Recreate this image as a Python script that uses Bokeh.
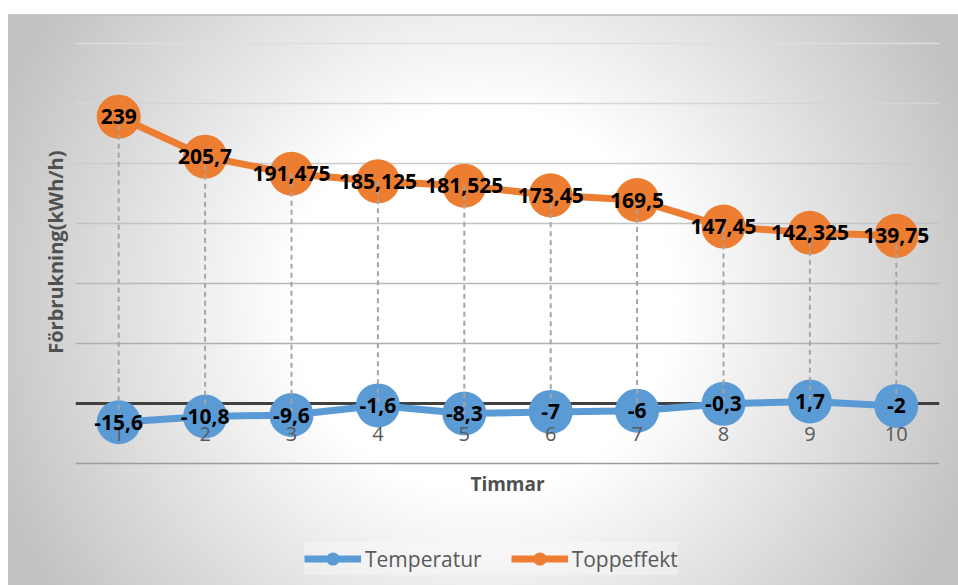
from bokeh.plotting import figure
from bokeh.models import (ColumnDataSource, Range1d, FixedTicker, LinearAxis, Grid,
                          Legend, LegendItem, Label, Title)
from bokeh.core.properties import value
from bokeh.embed import file_html
from bokeh.resources import INLINE

# --- data -------------------------------------------------------------
hours = [1, 2, 3, 4, 5, 6, 7, 8, 9, 10]
temperatur = [-15.6, -10.8, -9.6, -1.6, -8.3, -7, -6, -0.3, 1.7, -2]
toppeffekt = [239, 205.7, 191.475, 185.125, 181.525, 173.45, 169.5, 147.45, 142.325, 139.75]
y_ticks = [-50, 0, 50, 100, 150, 200, 250, 300]
x_title = "Timmar"
y_title = "Förbrukning(kWh/h)"
series_names = ["Temperatur", "Toppeffekt"]

BLUE = "#5B9BD5"
ORANGE = "#ED7D31"
FONT = "Open Sans"
TEXT_GREY = "#595959"

# layout (pixels)
W, H = 958, 585
LEFT, RIGHT, TOP = 75, 19, 43
PLOT_H = 420            # height of the gridded value area
PAD_TOP = 3             # keeps the top gridline fully visible
px_per_unit = PLOT_H / (y_ticks[-1] - y_ticks[0])
y_low = y_ticks[0] - (H - TOP - PLOT_H) / px_per_unit   # frame runs to the bottom edge
y_high = y_ticks[-1] + PAD_TOP / px_per_unit


def fmt(v):
    return f"{v:g}".replace(".", ",")


src = ColumnDataSource(dict(
    x=hours,
    temp=temperatur,
    topp=toppeffekt,
    temp_lbl=[fmt(v) for v in temperatur],
    topp_lbl=[fmt(v) for v in toppeffekt],
))

p = figure(width=W, height=H, output_backend="svg", toolbar_location=None,
           x_range=Range1d(0.5, 10.5), y_range=Range1d(y_low, y_high),
           x_axis_type=None, y_axis_type=None,
           min_border_left=LEFT, min_border_right=RIGHT,
           min_border_top=TOP - PAD_TOP, min_border_bottom=0)

p.border_fill_color = None
p.background_fill_color = None
p.outline_line_color = None
p.grid.visible = False

# chart-area fill: light radial gradient with a thin top edge
p.styles = {
    "background": (
        "linear-gradient(#c4c4c4, #c4c4c4) 8px 14px / 950px 2px no-repeat, "
        "radial-gradient(circle at 475px 286px, #ffffff 0px, #ffffff 190px, #c2c2c2 520px) "
        "8px 14px / 950px 571px no-repeat, #ffffff"
    )
}

# horizontal gridlines, shading darker towards the bottom
span = y_ticks[-1] - y_ticks[0]
for v in y_ticks:
    if v == 0:
        continue
    t = (y_ticks[-1] - v) / span
    g = int(round(222 - t * (222 - 156)))
    p.add_layout(Grid(dimension=1, ticker=FixedTicker(ticks=[v]),
                      grid_line_color=f"#{g:02x}{g:02x}{g:02x}", grid_line_width=1.5))

# zero line kept underneath the markers
p.add_layout(Grid(dimension=1, ticker=FixedTicker(ticks=[0]),
                  grid_line_color="#404040", grid_line_width=3))

# series lines and markers
l_temp = p.line("x", "temp", source=src, line_color=BLUE, line_width=7)
l_topp = p.line("x", "topp", source=src, line_color=ORANGE, line_width=7)
m_temp = p.scatter("x", "temp", source=src, size=44, fill_color=BLUE, line_color=None)
m_topp = p.scatter("x", "topp", source=src, size=44, fill_color=ORANGE, line_color=None)

# high-low lines between the two series
p.segment(x0="x", y0="topp", x1="x", y1="temp", source=src,
          line_color="#a5a5a5", line_width=2, line_dash="5 4")

# data labels
for col, ycol in (("temp_lbl", "temp"), ("topp_lbl", "topp")):
    r = p.text("x", ycol, text=col, source=src, text_font=value(FONT),
               text_font_style="bold", text_font_size="21px", text_color="#000000",
               text_align="center", text_baseline="middle")
    r.level = "annotation"

# category axis crossing at zero
xaxis = LinearAxis(fixed_location=0, ticker=FixedTicker(ticks=hours))
xaxis.axis_line_color = None
xaxis.major_tick_line_color = None
xaxis.minor_tick_line_color = None
xaxis.major_label_standoff = 17
xaxis.major_label_text_font = FONT
xaxis.major_label_text_font_size = "20px"
xaxis.major_label_text_color = TEXT_GREY
p.add_layout(xaxis, "below")

# category axis title
x_mid = (p.x_range.start + p.x_range.end) / 2
p.add_layout(Label(x=x_mid, y=y_ticks[0] - 20 / px_per_unit, text=x_title,
                   text_font=FONT, text_font_style="bold", text_font_size="19px",
                   text_color="#505050", text_align="center", text_baseline="middle"))

# value axis title, placed along the gridded range
p.add_layout(Title(text=y_title, align="right", offset=110, standoff=14,
                   vertical_align="bottom",
                   text_font=FONT, text_font_style="bold", text_font_size="20px",
                   text_color="#505050"), "left")

legend = Legend(
    items=[LegendItem(label=series_names[0], renderers=[l_temp, m_temp]),
           LegendItem(label=series_names[1], renderers=[l_topp, m_topp])],
    orientation="horizontal",
    location=(229, 10),
    glyph_width=57, glyph_height=33,
    label_standoff=4, spacing=29, padding=7,
    label_text_font=FONT, label_text_font_size="21px", label_text_color=TEXT_GREY,
    background_fill_color="#ffffff", background_fill_alpha=0.3,
    border_line_color=None,
)
p.add_layout(legend)

open("out.html", "w").write(file_html(p, INLINE))
